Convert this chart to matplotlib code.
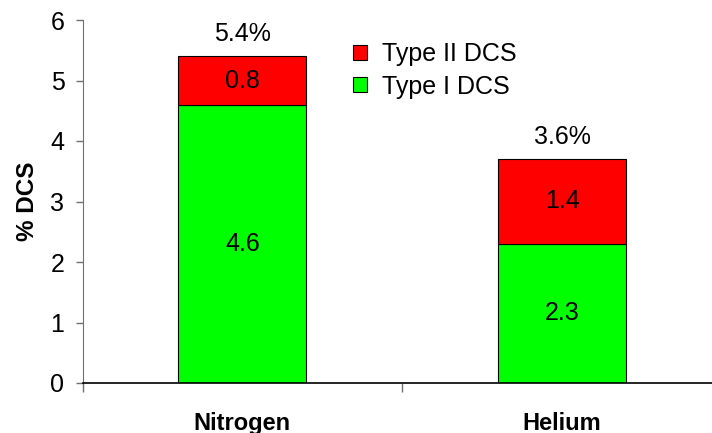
import matplotlib.pyplot as plt
import numpy as np
from matplotlib.patches import Patch

plt.rcParams['font.family'] = ['Liberation Sans', 'DejaVu Sans']

# gas mixtures and incidence of decompression sickness (%)
gases = ['Nitrogen', 'Helium']
type1 = [4.6, 2.3]
type2 = [0.8, 1.4]
totals_txt = ['5.4%', '3.6%']

green = '#00FF00'
red = '#FF0000'
fs = 18

fig = plt.figure(figsize=(7.12, 4.33), dpi=100)
ax = fig.add_axes([82.5/712, 50/433, 639.5/712, 363/433])

x = np.arange(len(gases))
t1 = np.array(type1)
t2 = np.array(type2)
ax.bar(x, t1, width=0.4, color=green, edgecolor='k', lw=0.8)
ax.bar(x, t2, width=0.4, bottom=t1, color=red, edgecolor='k', lw=0.8)

# segment values in the middle of each block
for i in range(len(gases)):
   ax.text(x[i], t1[i]/2, f'{t1[i]:.1f}', ha='center', va='center', fontsize=fs)
   ax.text(x[i], t1[i] + t2[i]/2, f'{t2[i]:.1f}', ha='center', va='center', fontsize=fs)
   ax.annotate(totals_txt[i], (x[i], t1[i] + t2[i]), xytext=(0, 11),
               textcoords='offset points', ha='center', va='baseline', fontsize=fs)

ax.set_xlim(-0.5, 1.5)
ax.set_ylim(0, 6)
ax.set_yticks(np.arange(0, 7, 1))

ax.set_xticks(x)
ax.set_xticklabels(gases, fontsize=17, fontweight='bold')
ax.set_xticks([-0.5, 0.5, 1.5], minor=True)
ax.tick_params(axis='x', which='major', length=0, pad=21)
ax.tick_params(axis='x', which='minor', length=6.5, width=1, color='#707070', direction='out')
ax.tick_params(axis='y', which='major', length=5, width=1, color='#707070',
               direction='out', labelsize=fs, pad=8)

for side in ['top', 'right']:
   ax.spines[side].set_visible(False)
ax.spines['left'].set_color('#707070')
ax.spines['bottom'].set_color('k')
ax.spines['bottom'].set_linewidth(1.2)

ax.set_ylabel('% DCS', fontsize=17.5, fontweight='bold')
ax.yaxis.set_label_coords(-0.068, 0.5)

handles = [Patch(facecolor=red, edgecolor='k', lw=0.8, label='Type II DCS'),
           Patch(facecolor=green, edgecolor='k', lw=0.8, label='Type I DCS')]
ax.legend(handles=handles, loc='upper left', bbox_to_anchor=(353/712, 1 - 42/433),
          bbox_transform=fig.transFigure, frameon=False, fontsize=fs,
          handlelength=0.55, handleheight=0.55, handletextpad=0.6,
          labelspacing=0.35, borderpad=0, borderaxespad=0)

plt.savefig('out.png', dpi=100)
